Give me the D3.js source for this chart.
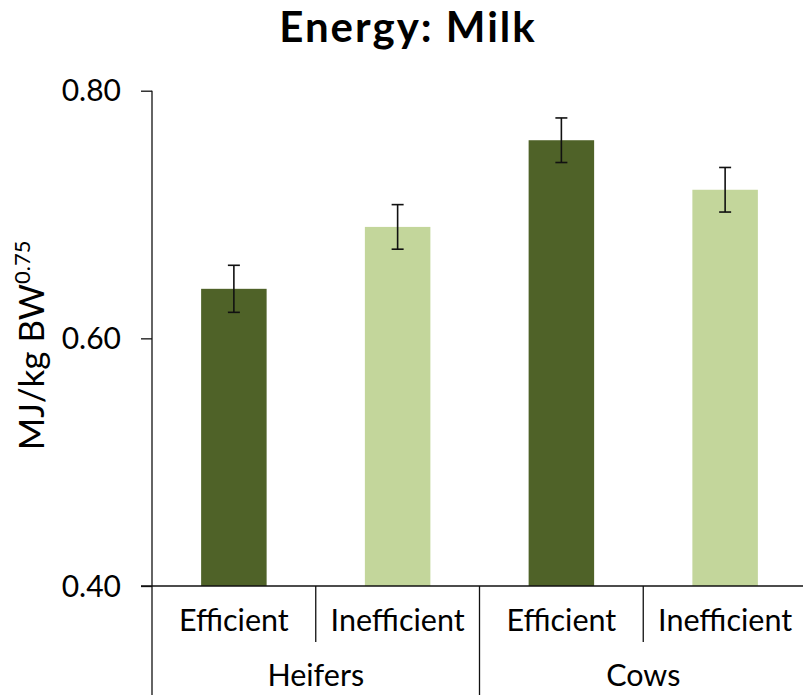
<!DOCTYPE html>
<html>
<head>
<meta charset="utf-8">
<script src="https://cdn.jsdelivr.net/npm/d3@7"></script>
<style>
  html, body { margin: 0; padding: 0; background: #ffffff; }
  svg { display: block; font-family: Lato, "Noto Sans", sans-serif; }
</style>
</head>
<body>
<svg id="chart" width="803" height="695"></svg>
<script>
// Milk energy per metabolic body weight, by parity group and efficiency class
const groups = ["Heifers", "Cows"];
const types = ["Efficient", "Inefficient"];
const values = [0.64, 0.69, 0.76, 0.72];      // Heifers Eff, Heifers Ineff, Cows Eff, Cows Ineff
const errors = [0.019, 0.018, 0.018, 0.018];  // standard error
const yTicks = [0.40, 0.60, 0.80];
const typeColors = ["#4f6228", "#c3d69b"];

const rows = values.map((v, i) => ({
  key: groups[Math.floor(i / types.length)] + "|" + types[i % types.length],
  group: groups[Math.floor(i / types.length)],
  type: types[i % types.length],
  typeIndex: i % types.length,
  value: v,
  err: errors[i]
}));

const svg = d3.select("#chart");
const plotLeft = 152, plotRight = 807, plotTop = 90.7, plotBase = 586, plotBottomEdge = 695;

const y = d3.scaleLinear().domain([0.40, 0.80]).range([plotBase, plotTop]);
const x = d3.scaleBand()
  .domain(rows.map(d => d.key))
  .range([plotLeft, plotRight])
  .paddingInner(0.6)
  .paddingOuter(0.3);

const ink = "#111111";

// Title
svg.append("text")
  .attr("x", 408).attr("y", 42)
  .attr("text-anchor", "middle")
  .attr("font-size", 42).attr("font-weight", 700)
  .attr("letter-spacing", 2)
  .attr("fill", "#000")
  .text("Energy: Milk");

// Y axis title with superscript exponent
const yt = svg.append("text")
  .attr("transform", `translate(44, ${(plotTop + plotBase) / 2 + 7}) rotate(-90)`)
  .attr("text-anchor", "middle")
  .attr("font-size", 35)
  .attr("fill", "#000");
yt.append("tspan").text("MJ/kg BW");
yt.append("tspan").attr("font-size", 22).attr("dy", -14).text("0.75");

// Bars
svg.append("g").selectAll("rect")
  .data(rows)
  .join("rect")
  .attr("x", d => x(d.key))
  .attr("width", x.bandwidth())
  .attr("y", d => y(d.value))
  .attr("height", d => y(0.40) - y(d.value))
  .attr("fill", d => typeColors[d.typeIndex]);

// Error bars
const eb = svg.append("g").attr("stroke", ink).attr("stroke-width", 1.6).attr("fill", "none");
const cx = d => x(d.key) + x.bandwidth() / 2;
eb.selectAll("line.v").data(rows).join("line").attr("class", "v")
  .attr("x1", cx).attr("x2", cx)
  .attr("y1", d => y(d.value + d.err)).attr("y2", d => y(d.value - d.err));
eb.selectAll("line.t").data(rows).join("line").attr("class", "t")
  .attr("x1", d => cx(d) - 6).attr("x2", d => cx(d) + 6)
  .attr("y1", d => y(d.value + d.err)).attr("y2", d => y(d.value + d.err));
eb.selectAll("line.b").data(rows).join("line").attr("class", "b")
  .attr("x1", d => cx(d) - 6).attr("x2", d => cx(d) + 6)
  .attr("y1", d => y(d.value - d.err)).attr("y2", d => y(d.value - d.err));

// Y axis
const yAxis = svg.append("g")
  .attr("transform", `translate(${plotLeft},0)`)
  .call(d3.axisLeft(y).tickValues(yTicks).tickFormat(d3.format(".2f"))
    .tickSize(11).tickSizeOuter(0).tickPadding(20));
yAxis.select(".domain").remove();
yAxis.selectAll(".tick line").attr("stroke", ink).attr("stroke-width", 1.3);
yAxis.selectAll(".tick text")
  .attr("font-family", "Lato, 'Noto Sans', sans-serif")
  .attr("font-size", 30).attr("fill", "#000").attr("dy", "0.34em");

// Axis lines: vertical axis runs down through the category label rows
svg.append("line")
  .attr("x1", plotLeft).attr("x2", plotLeft)
  .attr("y1", plotTop).attr("y2", plotBottomEdge)
  .attr("stroke", ink).attr("stroke-width", 1.3);
svg.append("line")
  .attr("x1", plotLeft - 11).attr("x2", plotRight)
  .attr("y1", plotBase).attr("y2", plotBase)
  .attr("stroke", ink).attr("stroke-width", 1.3);

// Category dividers: short between types, full-height between groups
const step = x.step();
const dividers = d3.range(1, rows.length).map(i => ({
  pos: plotLeft + i * step,
  groupEdge: i % types.length === 0
}));
svg.append("g").selectAll("line")
  .data(dividers)
  .join("line")
  .attr("x1", d => d.pos).attr("x2", d => d.pos)
  .attr("y1", plotBase)
  .attr("y2", d => d.groupEdge ? plotBottomEdge : 642)
  .attr("stroke", ink).attr("stroke-width", 1.3);

// Type labels
svg.append("g").selectAll("text")
  .data(rows)
  .join("text")
  .attr("x", cx)
  .attr("y", 631)
  .attr("text-anchor", "middle")
  .attr("font-size", 30.5)
  .attr("fill", "#000")
  .text(d => d.type);

// Group labels
svg.append("g").selectAll("text")
  .data(groups)
  .join("text")
  .attr("x", (g, i) => plotLeft + (i + 0.5) * step * types.length)
  .attr("y", 686)
  .attr("text-anchor", "middle")
  .attr("font-size", 30.5)
  .attr("fill", "#000")
  .text(g => g);
</script>
</body>
</html>
